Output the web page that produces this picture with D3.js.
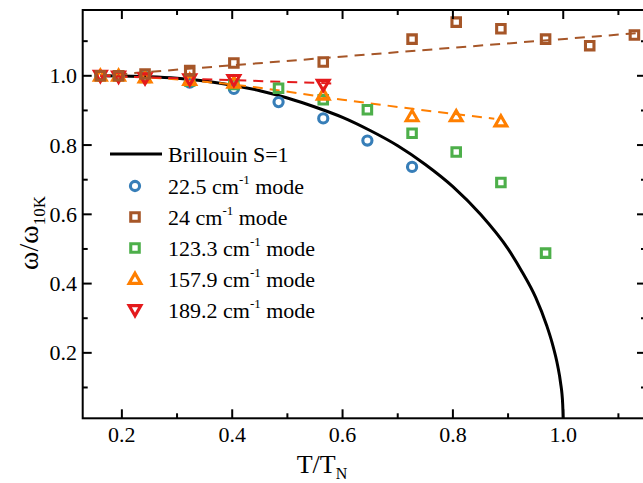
<!DOCTYPE html>
<html>
<head>
<meta charset="utf-8">
<script src="https://cdn.jsdelivr.net/npm/d3@7"></script>
<style>
  html, body { margin: 0; padding: 0; background: #fff; }
  svg { display: block; }
  svg, text, tspan { font-family: "Liberation Serif", "DejaVu Serif", serif; }
  text { fill: #000; }
</style>
</head>
<body>
<svg id="chart" width="643" height="483" font-family="Liberation Serif, serif"></svg>
<script>
// Reduced temperature T/T_N of each measurement
const tRatio = [0.161, 0.194, 0.242, 0.323, 0.403, 0.484, 0.565, 0.645, 0.726, 0.806, 0.887, 0.968, 1.048, 1.129];

// Normalised phonon / magnon frequencies ω/ω(10 K); null = not measured
const mode22_5  = [1.000, 1.000, 0.997, 0.980, 0.962, 0.924, 0.877, 0.813, 0.737, null, null, null, null, null];
const mode24    = [1.000, 1.000, 1.005, 1.015, 1.037, null, 1.040, null, 1.106, 1.155, 1.136, 1.106, 1.087, 1.118];
const mode123_3 = [1.000, 1.000, 0.995, 0.985, 0.975, 0.964, 0.931, 0.902, 0.834, 0.780, 0.692, 0.488, null, null];
const mode157_9 = [1.000, 1.000, 0.995, 0.988, 0.980, null, 0.945, null, 0.883, 0.883, 0.868, null, null, null];
const mode189_2 = [1.000, 0.998, 0.993, 0.990, 0.988, null, 0.974, null, null, null, null, null, null, null];

// Brillouin S=1 order-parameter curve (t, m)
const brillouinT = [0.161, 0.20, 0.25, 0.30, 0.35, 0.40, 0.45, 0.50, 0.55, 0.60, 0.65, 0.70, 0.75, 0.80, 0.85, 0.90, 0.925, 0.95, 0.97, 0.98, 0.99, 0.995, 0.999, 1.0];
const brillouinM = [1.000, 0.9994, 0.9975, 0.993, 0.985, 0.973, 0.957, 0.936, 0.910, 0.880, 0.842, 0.798, 0.744, 0.680, 0.600, 0.500, 0.435, 0.360, 0.279, 0.228, 0.162, 0.115, 0.052, 0.0];

// Dashed guide lines (x, y) for three of the modes
const fit24    = [[0.161, 1.000], [1.14, 1.124]];
const fit157_9 = [[0.161, 1.000], [0.27, 0.993], [0.40, 0.975], [0.60, 0.931], [0.75, 0.900], [0.875, 0.876]];
const fit189_2 = [[0.161, 1.000], [0.58, 0.978]];

// Axis ticks
const xMajor = [0.2, 0.4, 0.6, 0.8, 1.0];
const xMinor = [0.3, 0.5, 0.7, 0.9, 1.1];
const yMajor = [0.2, 0.4, 0.6, 0.8, 1.0];
const yMinor = [0.1, 0.3, 0.5, 0.7, 0.9, 1.1];

const legendLabels = ["Brillouin S=1", "22.5", "24", "123.3", "157.9", "189.2"];

const svg = d3.select("#chart");
const plotL = 82.7, plotR = 646, plotT = 10, plotB = 418.3;

const x = d3.scaleLinear().domain([0.129, 1.15]).range([plotL, plotR]);
const y = d3.scaleLinear().domain([0.011, 1.19]).range([plotB, plotT]);

const series = [
  { values: mode22_5,  color: "#377eb8", shape: "circle" },
  { values: mode24,    color: "#a65628", shape: "square" },
  { values: mode123_3, color: "#4daf4a", shape: "square" },
  { values: mode157_9, color: "#ff7f00", shape: "up" },
  { values: mode189_2, color: "#e41a1c", shape: "down" }
];

function symbolPath(shape) {
  if (shape === "circle") return d3.symbol(d3.symbolCircle, 66)();
  if (shape === "square") return d3.symbol(d3.symbolSquare, 72)();
  return d3.symbol(d3.symbolTriangle, 60)();
}
function symbolTransform(shape, px, py) {
  if (shape === "up") return `translate(${px},${py + 1})`;
  if (shape === "down") return `translate(${px},${py - 1}) rotate(180)`;
  return `translate(${px},${py})`;
}

svg.append("defs").append("clipPath").attr("id", "plotClip")
  .append("rect").attr("x", plotL).attr("y", plotT).attr("width", plotR - plotL).attr("height", plotB - plotT);

const plot = svg.append("g").attr("clip-path", "url(#plotClip)");

// Theory curve
const brillouin = brillouinT.map((t, i) => [t, brillouinM[i]]);
plot.append("path")
  .attr("d", d3.line().x(d => x(d[0])).y(d => y(d[1])).curve(d3.curveMonotoneX)(brillouin))
  .attr("fill", "none").attr("stroke", "#000").attr("stroke-width", 3);

// Dashed guides
const guides = [
  { pts: fit24, color: "#a65628" },
  { pts: fit157_9, color: "#ff7f00" },
  { pts: fit189_2, color: "#e41a1c" }
];
guides.forEach(g => {
  plot.append("path")
    .attr("d", d3.line().x(d => x(d[0])).y(d => y(d[1])).curve(d3.curveMonotoneX)(g.pts))
    .attr("fill", "none").attr("stroke", g.color).attr("stroke-width", 2)
    .attr("stroke-dasharray", "10,7");
});

// Markers (brown drawn last so it sits on top)
const drawOrder = [0, 2, 3, 4, 1];
drawOrder.forEach(si => {
  const s = series[si];
  const pts = tRatio.map((t, i) => [t, s.values[i]]).filter(d => d[1] !== null);
  plot.selectAll(null).data(pts).enter().append("path")
    .attr("d", symbolPath(s.shape))
    .attr("transform", d => symbolTransform(s.shape, x(d[0]), y(d[1])))
    .attr("fill", "none").attr("stroke", s.color).attr("stroke-width", 3.1);
});

// Frame
const axes = svg.append("g").attr("stroke", "#000").attr("stroke-width", 2).attr("fill", "none");
axes.append("rect").attr("x", plotL).attr("y", plotT).attr("width", plotR - plotL).attr("height", plotB - plotT);

function ticksX(vals, len) {
  vals.forEach(v => {
    axes.append("line").attr("x1", x(v)).attr("x2", x(v)).attr("y1", plotB).attr("y2", plotB - len);
    axes.append("line").attr("x1", x(v)).attr("x2", x(v)).attr("y1", plotT).attr("y2", plotT + len);
  });
}
function ticksY(vals, len) {
  vals.forEach(v => {
    axes.append("line").attr("y1", y(v)).attr("y2", y(v)).attr("x1", plotL).attr("x2", plotL + len);
    axes.append("line").attr("y1", y(v)).attr("y2", y(v)).attr("x1", plotR).attr("x2", plotR - len);
  });
}
ticksX(xMajor, 9); ticksX(xMinor, 5);
ticksY(yMajor, 9); ticksY(yMinor, 5);

const fmt = d3.format(".1f");
svg.append("g").selectAll("text").data(xMajor).enter().append("text")
  .attr("x", d => x(d)).attr("y", 441.5).attr("text-anchor", "middle")
  .attr("font-size", 22).text(d => fmt(d));
svg.append("g").selectAll("text").data(yMajor).enter().append("text")
  .attr("x", 77).attr("y", d => y(d) + 7.5).attr("text-anchor", "end")
  .attr("font-size", 22).text(d => fmt(d));

// Axis titles
const xt = svg.append("text").attr("x", 322).attr("y", 473).attr("text-anchor", "middle").attr("font-size", 26);
xt.append("tspan").text("T/T");
xt.append("tspan").attr("font-size", 16).attr("dy", 6).text("N");

const yt = svg.append("text").attr("transform", "translate(38,233) rotate(-90)")
  .attr("text-anchor", "middle").attr("font-size", 28);
yt.append("tspan").text("ω/ω");
yt.append("tspan").attr("font-size", 17).attr("dy", 7).text("10K");

// Legend
const lg = svg.append("g");
const rowY = [154, 186, 217, 248, 279, 310];
lg.append("line").attr("x1", 110).attr("x2", 162).attr("y1", rowY[0]).attr("y2", rowY[0])
  .attr("stroke", "#000").attr("stroke-width", 3);
lg.append("text").attr("x", 168).attr("y", rowY[0] + 7.5).attr("font-size", 22).text(legendLabels[0]);
series.forEach((s, i) => {
  const ry = rowY[i + 1];
  lg.append("path").attr("d", symbolPath(s.shape))
    .attr("transform", symbolTransform(s.shape, 135, ry))
    .attr("fill", "none").attr("stroke", s.color).attr("stroke-width", 3.1);
  const t = lg.append("text").attr("x", 168).attr("y", ry + 7.5).attr("font-size", 22);
  t.append("tspan").text(legendLabels[i + 1] + " cm");
  t.append("tspan").attr("font-size", 13).attr("dy", -10).text("-1");
  t.append("tspan").attr("dy", 10).text(" mode");
});
</script>
</body>
</html>
